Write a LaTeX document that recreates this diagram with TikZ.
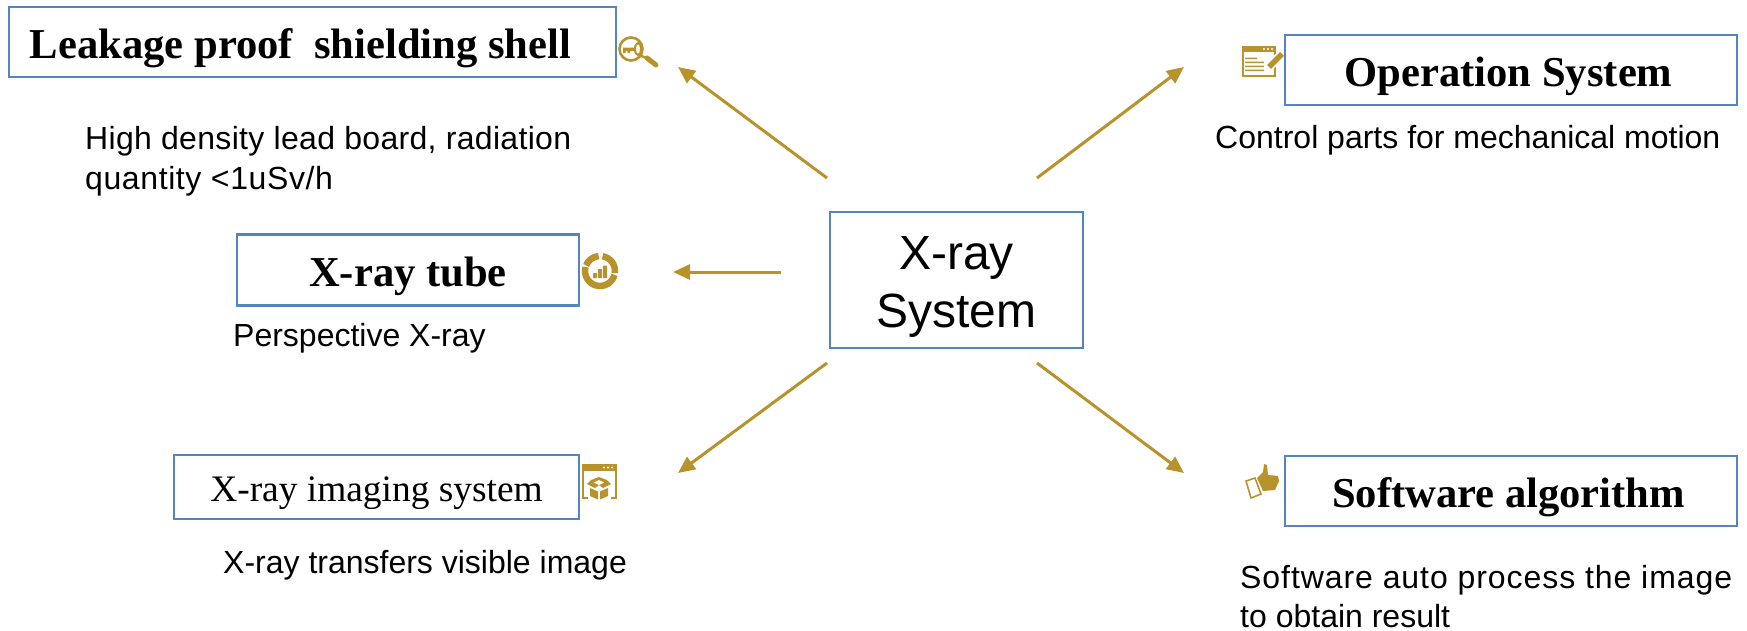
\documentclass[tikz,border=0pt]{standalone}
\usepackage{fontspec}
\setmainfont{Liberation Sans}
\newfontfamily\titlefont{Liberation Serif}
\usetikzlibrary{arrows.meta}
\definecolor{boxblue}{HTML}{5585C0}
\definecolor{gold}{HTML}{B8922A}

\begin{document}
\begin{tikzpicture}[x=1pt,y=-1pt,
box/.style = {draw=boxblue, line width=2.5pt, fill=white, inner sep=0pt, align=center},
note/.style = {anchor=west, inner sep=0pt, align=left, font=\fontsize{32}{40}\selectfont},
head/.style = {font=\titlefont\bfseries\fontsize{42.6}{48}\selectfont, text height=32pt, text depth=0pt},
link/.style = {draw=gold, line width=3pt, -{Triangle[length=17pt,width=15pt]}}]
\useasboundingbox (0,0) rectangle (1747,630);

\node[box,minimum width=253pt,minimum height=136pt,font=\fontsize{48}{58}\selectfont] (sys) at (956.5,280) {\rule{0pt}{46pt}X-ray\\System};

\node[box,head,minimum width=607pt,minimum height=70pt] (shell) at (312.5,42) {Leakage proof\ \ shielding shell\hspace*{24pt}};
\node[box,head,minimum width=342pt,minimum height=71pt] (tube) at (408,270) {X-ray tube};
\node[box,minimum width=405pt,minimum height=64pt,font=\titlefont\fontsize{37.4}{42}\selectfont,text height=29pt,text depth=0pt] (imaging) at (376.5,487) {X-ray imaging system};
\node[box,head,minimum width=452pt,minimum height=70pt] (opsys) at (1511,70) {Operation System\hspace*{5pt}};
\node[box,head,minimum width=452pt,minimum height=70pt] (soft) at (1511,491) {Software algorithm\hspace*{5pt}};

\node[note] (shellnote) at (85,161) {{\addfontfeature{LetterSpace=1}High density lead board, radiation}\\{\addfontfeature{LetterSpace=1.9}quantity <1uSv/h}};
\node[note] (tubenote) at (233,338) {Perspective X-ray};
\node[note] (imagingnote) at (223,565) {X-ray transfers visible image};
\node[note] (opsysnote) at (1215,140) {Control parts for mechanical motion};
\node[note,font=\fontsize{32}{39}\selectfont] (softnote) at (1240,597) {{\addfontfeature{LetterSpace=2.9}Software auto process the image}\\to obtain result};

% arrows stop short of the boxes
\coordinate (a1) at (827,178); \coordinate (b1) at (678,67);
\coordinate (a2) at (781,272); \coordinate (b2) at (673,272);
\coordinate (a3) at (827,363); \coordinate (b3) at (678,473);
\coordinate (a4) at (1037,178); \coordinate (b4) at (1184,67);
\coordinate (a5) at (1037,363); \coordinate (b5) at (1184,473);
\foreach \i in {1,...,5}
  \draw[link] (a\i) -- (b\i);

% key icon
\draw[gold,line width=2.6pt] (631,49) circle (11.5pt);
\draw[gold,line width=2.5pt] (641,56) -- (647,58);
\draw[gold,line width=5pt,line cap=round] (647,58) -- (656,65);
\draw[gold,line width=2pt] (638,49) ellipse (3pt and 6pt);
\fill[gold] (623,47.5) rectangle (635,51) (623,47.5) rectangle (625.5,53) (627.5,47.5) rectangle (630,53);

% chart icon
\foreach \a/\b in {95/158,165/345,352/440}
  \draw[gold,line width=6.5pt] ([shift={(\a:15pt)}]600,271) arc[start angle=\a,end angle=\b,radius=15pt];
\fill[gold] (593,273) rectangle (597,278) (598,269) rectangle (602,278) (603,265.5) rectangle (607,278);

% box window icon
\draw[gold,line width=1.5pt] (583,465) rectangle (616,498);
\fill[gold] (582,464) rectangle (617,471);
\foreach \x in {604,608,612}
  \fill[white] (\x,467.5) circle (1.2pt);
\fill[white] (588,475) rectangle (611,501);
\fill[gold] (599,477) -- (591,480) -- (587,484) -- (595,488) -- (599,485) -- (603,488) -- (611,484) -- (607,480) -- cycle;
\fill[white] (599,480) -- (594,482.5) -- (599,485) -- (604,482.5) -- cycle;
\fill[gold] (590,488) -- (598,491.5) -- (598,499.5) -- (590,496) -- cycle (608,488) -- (600,491.5) -- (600,499.5) -- (608,496) -- cycle;

% note window icon
\draw[gold,line width=1.5pt] (1243,47) rectangle (1275,76);
\fill[gold] (1242,46) rectangle (1276,52);
\foreach \x in {1264,1268,1272}
  \fill[white] (\x,49) circle (1.2pt);
\fill[gold] (1245,57.5) rectangle (1257,59) (1245,61.5) rectangle (1264,63) (1245,65.5) rectangle (1264,67) (1245,69.5) rectangle (1264,71);
\draw[white,line width=9pt] (1267,69) -- (1281,55);
\draw[gold,line width=5.5pt] (1269,67) -- (1282,54);

% thumb icon
\draw[gold,line width=1.6pt] (1246,481) -- (1255,478) -- (1261,494) -- (1251,498) -- cycle;
\fill[gold] (1257,478) -- (1263,472) -- (1264,464) -- (1267,465) -- (1268,475) -- (1278,476) -- (1279,481) -- (1275,490) -- (1263,491) -- cycle;
\end{tikzpicture}
\end{document}
